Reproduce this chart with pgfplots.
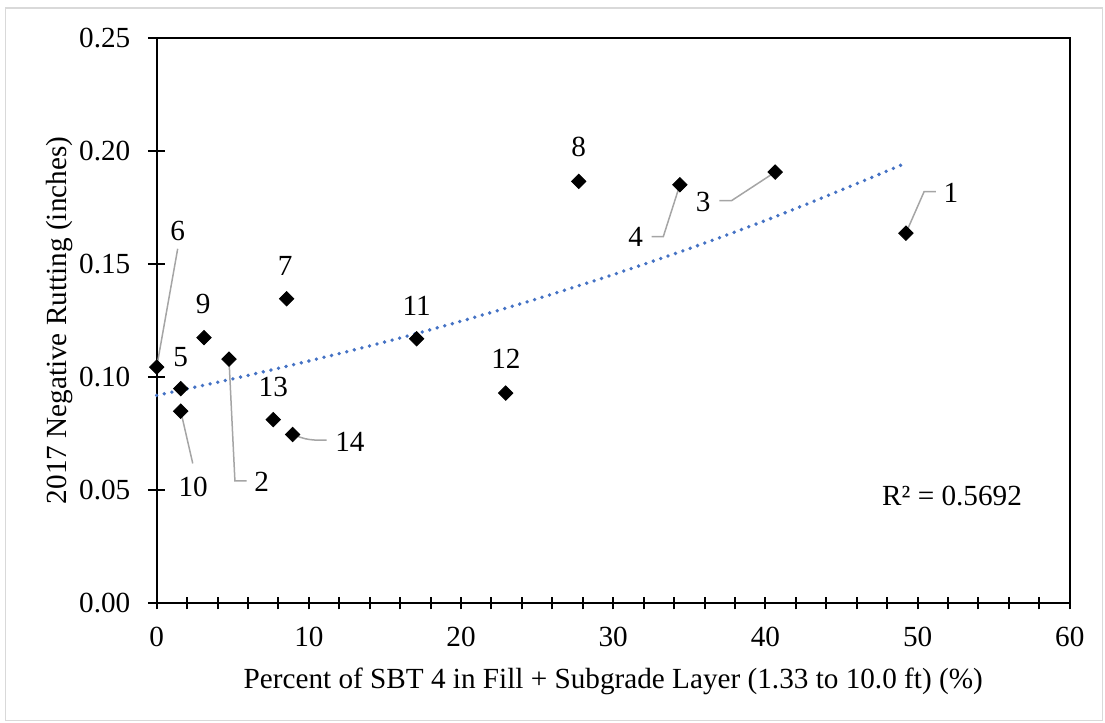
\documentclass[border=0pt]{standalone}
\usepackage{fontspec}
\setmainfont{Liberation Serif}
\usepackage{pgfplots}
\pgfplotsset{compat=1.18}
\definecolor{trendblue}{HTML}{4472C4}
\definecolor{leader}{HTML}{A5A5A5}
\definecolor{frame}{HTML}{D9D9D9}
\newcommand{\cf}{\fontsize{14.6}{17}\selectfont}
\begin{document}
\begin{tikzpicture}
\useasboundingbox (-78.35pt,-59.85pt) rectangle (474.15pt,301.65pt);
\draw[frame, line width=0.8pt] (-75.6pt,-58.6pt) rectangle (472.9pt,297.6pt);
\begin{axis}[
  at={(0pt,0pt)}, anchor=south west,
  scale only axis, width=456.55pt, height=282.8pt,
  xmin=0, xmax=60, ymin=0, ymax=0.25,
  xtick={0,10,...,60}, minor x tick num=4,
  ytick={0,0.05,...,0.25},
  tick align=center,
  major tick length=8.8pt, minor tick length=8.8pt,
  tick style={black, line width=1pt},
  xtick style={/pgfplots/major tick length=6pt, /pgfplots/minor tick length=6pt},
  axis line style={black, line width=1.1pt},
  xtick pos=bottom, ytick pos=left,
  /pgf/number format/assume math mode=true,
  yticklabel={\pgfmathprintnumber[fixed,fixed zerofill,precision=2]{\tick}},
  xticklabel style={font=\cf, anchor=base, inner sep=0pt, yshift=-17.3pt},
  yticklabel style={font=\cf, anchor=east, inner sep=0pt, xshift=-8.6pt},
  scaled y ticks=false,
  xlabel={Percent of SBT 4 in Fill + Subgrade Layer (1.33 to 10.0 ft) (\%)},
  ylabel={2017 Negative Rutting (inches)},
  xlabel style={font=\cf, at={(axis description cs:0.5,-0.1515)}, anchor=base, inner sep=0pt},
  ylabel style={font=\cf, at={(axis description cs:-0.106,0.5)}, anchor=center, inner sep=0pt},
  clip=false,
]
% trendline (exponential)
\addplot[trendblue, line width=1.9pt, line cap=round, dash pattern=on 0pt off 3.9pt, smooth] coordinates {
(0,0.0919) (5,0.0992) (10,0.1071) (15,0.1155) (20,0.1247) (25,0.1346)
(30,0.1453) (35,0.1568) (40,0.1692) (45,0.1827) (49.2,0.1945)};
% leader lines
\draw[leader, line width=0.75pt] (axis cs:0,0.1044) -- (axis cs:1.38,0.1567);
\draw[leader, line width=0.75pt] (axis cs:1.58,0.0849) -- (axis cs:2.37,0.0618);
\draw[leader, line width=0.75pt] (axis cs:4.75,0.1079) -- (axis cs:5.14,0.0541) -- (axis cs:5.91,0.0541);
\draw[leader, line width=0.75pt] (axis cs:8.93,0.0746) .. controls (axis cs:9.8,0.0725) .. (axis cs:10.5,0.0721) -- (axis cs:11.17,0.0721);
\draw[leader, line width=0.75pt] (axis cs:34.38,0.1850) -- (axis cs:33.29,0.1621) -- (axis cs:32.52,0.1621);
\draw[leader, line width=0.75pt] (axis cs:40.64,0.1906) -- (axis cs:37.78,0.1780) -- (axis cs:36.97,0.1780);
\draw[leader, line width=0.75pt] (axis cs:49.23,0.1636) -- (axis cs:50.43,0.1820) -- (axis cs:51.2,0.1820);
% data
\addplot[only marks, mark=square*, mark size=2.55pt, black,
  every mark/.append style={rotate=45}] coordinates {
(49.23,0.1636) (4.75,0.1079) (40.64,0.1906) (34.38,0.1850) (1.58,0.0949)
(0,0.1044) (8.54,0.1346) (27.73,0.1865) (3.11,0.1174) (1.58,0.0849)
(17.08,0.1169) (22.93,0.0929) (7.66,0.0812) (8.93,0.0746)};
% data labels
\begin{scope}[every node/.style={font=\cf, inner sep=0pt}]
\node at (axis cs:52.19,0.1812) {1};
\node at (axis cs:6.9,0.0537) {2};
\node at (axis cs:35.91,0.1772) {3};
\node at (axis cs:31.47,0.1618) {4};
\node at (axis cs:1.58,0.1088) {5};
\node at (axis cs:1.38,0.1647) {6};
\node at (axis cs:8.45,0.1493) {7};
\node at (axis cs:27.73,0.2015) {8};
\node at (axis cs:3.06,0.1321) {9};
\node at (axis cs:2.4,0.0515) {10};
\node at (axis cs:17.08,0.1316) {11};
\node at (axis cs:22.95,0.1081) {12};
\node at (axis cs:7.66,0.0956) {13};
\node at (axis cs:12.7,0.0713) {14};
\node[anchor=base west] at (axis cs:47.65,0.0434) {R² = 0.5692};
\end{scope}
\end{axis}
\end{tikzpicture}
\end{document}
